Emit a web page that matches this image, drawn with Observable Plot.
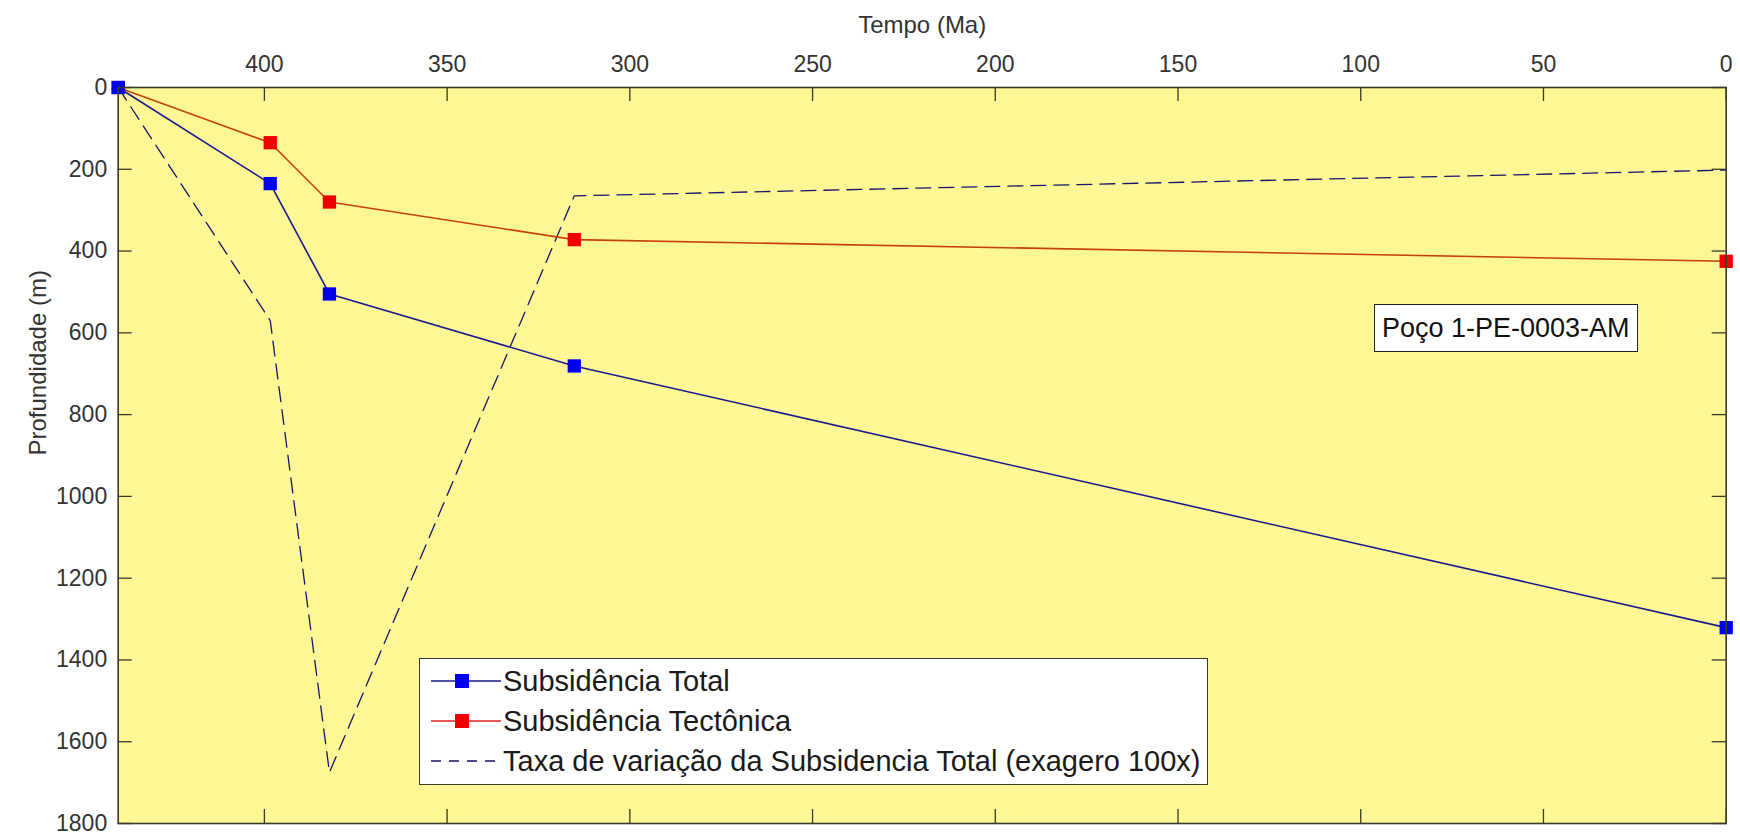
<!DOCTYPE html>
<html>
<head>
<meta charset="utf-8">
<script src="https://cdn.jsdelivr.net/npm/d3@7"></script>
<script src="https://cdn.jsdelivr.net/npm/@observablehq/plot@0.6"></script>
<style>
  html, body { margin: 0; padding: 0; background: #ffffff; }
  #wrap { position: relative; width: 1740px; height: 839px; font-family: "Liberation Sans", Arial, Helvetica, sans-serif; }
  #legend { position: absolute; background: #ffffff; border: 1.5px solid #3a3a2a; box-sizing: border-box; }
  .row { position: absolute; left: 0; height: 36px; display: flex; align-items: center; font-size: 29px; color: #1a1a1a; white-space: nowrap; }
  #well { position: absolute; background: #ffffff; border: 1.5px solid #222; box-sizing: border-box; font-size: 27px; color: #111; padding: 6px 7px; white-space: nowrap; line-height: 34px; }
</style>
</head>
<body>
<div id="wrap"></div>
<script>
// ---- data ----
const timeMa      = [440, 398.4, 382.2, 315.2, 0];          // Tempo (Ma)
const subsTotal   = [0, 235, 505, 681, 1321];                // Subsidência Total (m)
const subsTecton  = [0, 135, 280, 372, 425];                 // Subsidência Tectônica (m)
const taxaVar     = [0, 570, 1675, 265, 202];                // Taxa de variação (exagero 100x)
const xTicks      = [400, 350, 300, 250, 200, 150, 100, 50, 0];
const yTicks      = [0, 200, 400, 600, 800, 1000, 1200, 1400, 1600, 1800];
const seriesNames = ["Subsidência Total", "Subsidência Tectônica", "Taxa de variação da Subsidencia Total (exagero 100x)"];
const wellLabel   = "Poço 1-PE-0003-AM";
const xLabel      = "Tempo (Ma)";
const yLabel      = "Profundidade (m)";

const total  = timeMa.map((t, i) => ({t, v: subsTotal[i]}));
const tecton = timeMa.map((t, i) => ({t, v: subsTecton[i]}));
const taxa   = timeMa.map((t, i) => ({t, v: taxaVar[i]}));

const W = 1740, H = 839;
const mL = 117.7, mR = 14.3, mT = 87, mB = 16;
const innerW = W - mL - mR, innerH = H - mT - mB;
const tickLen = 14;
const axisColor = "#3a3a2a";
const bg = "#fef795";

const chart = Plot.plot({
  width: W, height: H,
  marginLeft: mL, marginRight: mR, marginTop: mT, marginBottom: mB,
  style: {fontFamily: '"Liberation Sans", Arial, Helvetica, sans-serif', fontSize: "23px", color: "#333", background: "#ffffff"},
  x: {domain: [440, 0], ticks: xTicks},
  y: {domain: [0, 1800], reverse: true, ticks: yTicks},
  marks: [
    Plot.frame({fill: bg, stroke: null}),
    // inward ticks on all four sides
    Plot.ruleX(xTicks, {stroke: axisColor, strokeWidth: 1.3, insetBottom: innerH - tickLen}),
    Plot.ruleX(xTicks, {stroke: axisColor, strokeWidth: 1.3, insetTop: innerH - tickLen}),
    Plot.ruleY(yTicks, {stroke: axisColor, strokeWidth: 1.3, insetRight: innerW - tickLen}),
    Plot.ruleY(yTicks, {stroke: axisColor, strokeWidth: 1.3, insetLeft: innerW - tickLen}),
    Plot.axisX({anchor: "top", ticks: xTicks, tickSize: 0, tickPadding: 16, label: null, fill: "#333", fontSize: 23, tickFormat: d => String(d)}),
    Plot.axisY({anchor: "left", ticks: yTicks, tickSize: 0, tickPadding: 11, label: null, fill: "#333", fontSize: 23, tickFormat: d => String(d)}),
    Plot.text([xLabel], {frameAnchor: "top", dy: -72, text: d => d, fontSize: 24, fill: "#333"}),
    Plot.text([yLabel], {frameAnchor: "left", dx: -80, rotate: -90, text: d => d, fontSize: 24, fill: "#333"}),
    // dashed rate line
    Plot.line(taxa, {x: "t", y: "v", stroke: "#16166a", strokeWidth: 1.3, strokeDasharray: "15,8"}),
    // tectonic
    Plot.line(tecton, {x: "t", y: "v", stroke: "#c8400a", strokeWidth: 1.6}),
    Plot.dot(tecton, {x: "t", y: "v", symbol: "square", r: 7.5, fill: "#f00000", stroke: null}),
    // total
    Plot.line(total, {x: "t", y: "v", stroke: "#1a1a90", strokeWidth: 1.6}),
    Plot.dot(total, {x: "t", y: "v", symbol: "square", r: 7.5, fill: "#0000f0", stroke: null}),
    Plot.frame({stroke: axisColor, strokeWidth: 1.6})
  ]
});

const wrap = document.getElementById("wrap");
chart.style.position = "absolute";
chart.style.left = "0px";
chart.style.top = "0px";
wrap.appendChild(chart);

// legend (HTML overlay inside the axes)
const legend = document.createElement("div");
legend.id = "legend";
Object.assign(legend.style, {left: "419px", top: "658px", width: "789px", height: "127px"});
const sw = [
  {color: "#0000f0", line: "#1a1a90", dash: null, marker: true},
  {color: "#f00000", line: "#e02020", dash: null, marker: true},
  {color: null, line: "#16166a", dash: "10,8", marker: false}
];
seriesNames.forEach((name, i) => {
  const row = document.createElement("div");
  row.className = "row";
  row.style.top = (4 + i * 40) + "px";
  row.style.left = "10px";
  const s = sw[i];
  row.innerHTML =
    `<svg width="72" height="36" style="margin-right:1px"><line x1="1" x2="71" y1="18" y2="18" stroke="${s.line}" stroke-width="1.6" ${s.dash ? `stroke-dasharray="${s.dash}"` : ""}/>` +
    (s.marker ? `<rect x="25" y="11" width="14" height="14" fill="${s.color}"/>` : "") +
    `</svg><span>${name}</span>`;
  legend.appendChild(row);
});
wrap.appendChild(legend);

// well label text box
const well = document.createElement("div");
well.id = "well";
well.textContent = wellLabel;
Object.assign(well.style, {left: "1374px", top: "304px"});
wrap.appendChild(well);
</script>
</body>
</html>
